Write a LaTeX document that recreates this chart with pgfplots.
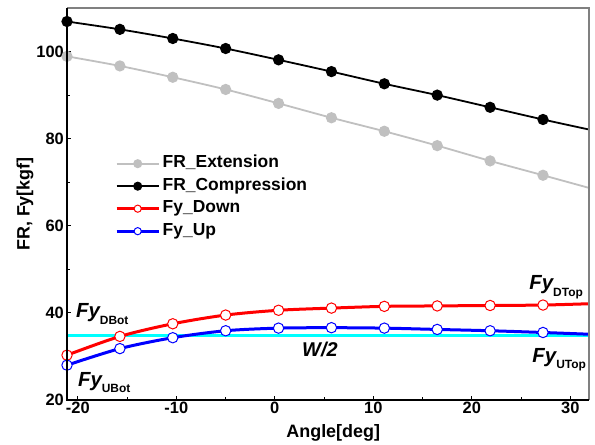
\documentclass[border=0pt]{standalone}
\usepackage{pgfplots}
\pgfplotsset{compat=1.18}
\usepackage{fontspec}
\setmainfont{Liberation Sans}
\definecolor{frgray}{RGB}{192,192,192}
\definecolor{wcyan}{RGB}{0,255,255}
\begin{document}
\begin{tikzpicture}
\path[use as bounding box] (-67bp,-45bp) rectangle (528bp,400bp);
\begin{axis}[
  scale only axis, width=522bp, height=392bp,
  xmin=-21.1, xmax=31.9, ymin=20, ymax=110,
  xtick={-20,-10,0,10,20,30}, ytick={20,40,60,80,100},
  minor x tick num=1, minor y tick num=1,
  tick pos=left, tick align=inside,
  major tick length=4bp, minor tick length=3bp,
  every tick/.style={black, line width=0.8bp},
  axis line style={draw=none},
  /pgf/number format/assume math mode=true,
  tick label style={font=\fontsize{16.5}{16.5}\selectfont\bfseries},
  xticklabel style={inner sep=2bp},
  yticklabel style={inner sep=3bp},
  xlabel={Angle[deg]}, ylabel={FR, Fy[kgf]},
  label style={font=\fontsize{18}{18}\selectfont\bfseries},
  xlabel style={at={(axis description cs:0.51,-0.084)}, anchor=center},
  ylabel style={at={(axis description cs:-0.0805,0.5)}, anchor=center},
  legend cell align=left,
  legend style={at={(axis description cs:0.092,0.6295)}, anchor=north west, draw=none, fill=none,
    font=\fontsize{17.5}{17.5}\selectfont\bfseries, inner sep=0pt, row sep=2bp, column sep=0bp,
    nodes={inner sep=2.5bp, text height=12bp, text depth=3.5bp}},
  legend image code/.code={\draw[#1,mark=none] (0bp,0bp) -- (42bp,0bp); \draw[#1, mark size=3.6bp] plot coordinates {(21bp,0bp)};},
]
\addplot[frgray, line width=1.8bp, smooth, mark=*, mark size=4.7bp, mark indices={1,2,3,4,5,6,7,8,9,10}] coordinates {
(-21.1,98.9) (-15.73,96.7) (-10.36,94.1) (-4.99,91.3) (0.38,88.1) (5.75,84.8) (11.12,81.7) (16.49,78.4) (21.86,74.9) (27.23,71.6) (31.9,68.7)};
\addlegendentry{FR\_Extension}
\addplot[black, line width=1.8bp, smooth, mark=*, mark size=4.7bp, mark indices={1,2,3,4,5,6,7,8,9,10}] coordinates {
(-21.1,106.9) (-15.73,105.1) (-10.36,103.0) (-4.99,100.7) (0.38,98.1) (5.75,95.4) (11.12,92.6) (16.49,90.0) (21.86,87.2) (27.23,84.4) (31.9,82.1)};
\addlegendentry{FR\_Compression}
\addplot[wcyan, line width=3.2bp, forget plot] coordinates {(-21.1,34.9) (31.9,34.9)};
\addplot[red, line width=3bp, smooth, mark=*, mark size=5.2bp, mark options={fill=white, draw=red, line width=1bp}, mark indices={1,2,3,4,5,6,7,8,9,10}] coordinates {
(-21.1,30.3) (-15.73,34.6) (-10.36,37.5) (-4.99,39.5) (0.38,40.6) (5.75,41.1) (11.12,41.5) (16.49,41.6) (21.86,41.7) (27.23,41.8) (31.9,42.1)};
\addlegendentry{Fy\_Down}
\addplot[blue, line width=3bp, smooth, mark=*, mark size=5.2bp, mark options={fill=white, draw=blue, line width=1bp}, mark indices={1,2,3,4,5,6,7,8,9,10}] coordinates {
(-21.1,28.0) (-15.73,31.8) (-10.36,34.3) (-4.99,35.9) (0.38,36.5) (5.75,36.6) (11.12,36.5) (16.49,36.2) (21.86,35.9) (27.23,35.5) (31.9,35.1)};
\addlegendentry{Fy\_Up}
\node[anchor=base west, inner sep=0pt] at (axis cs:-20.2,38.85) {{\fontsize{20.5}{20.5}\selectfont\bfseries\itshape Fy}\raisebox{-7bp}{\fontsize{12}{12}\selectfont\bfseries DBot}};
\node[anchor=base west, inner sep=0pt] at (axis cs:-20.0,23.0) {{\fontsize{20.5}{20.5}\selectfont\bfseries\itshape Fy}\raisebox{-6bp}{\fontsize{12}{12}\selectfont\bfseries UBot}};
\node[anchor=base west, inner sep=0pt] at (axis cs:25.83,45.3) {{\fontsize{20.5}{20.5}\selectfont\bfseries\itshape Fy}\raisebox{-7bp}{\fontsize{12}{12}\selectfont\bfseries DTop}};
\node[anchor=base west, inner sep=0pt] at (axis cs:26.14,28.7) {{\fontsize{20.5}{20.5}\selectfont\bfseries\itshape Fy}\raisebox{-6bp}{\fontsize{12}{12}\selectfont\bfseries UTop}};
\node[anchor=base west, inner sep=0pt] at (axis cs:2.76,30.1) {\fontsize{20}{20}\selectfont\bfseries\itshape W/2};
\end{axis}
\draw[gray, line width=1.5bp] (0bp,392bp) -- (522bp,392bp) -- (522bp,0bp);
\draw[black, line width=2bp] (0bp,392bp) -- (0bp,0bp) -- (522bp,0bp);
\end{tikzpicture}
\end{document}
